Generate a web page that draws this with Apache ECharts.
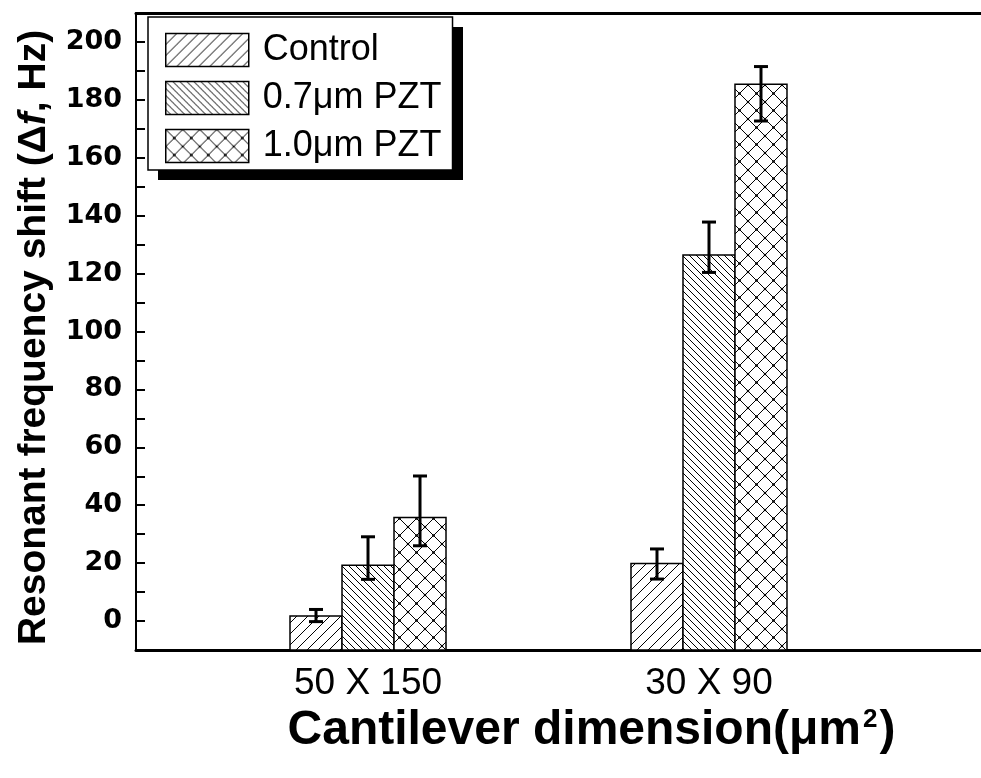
<!DOCTYPE html>
<html>
<head>
<meta charset="utf-8">
<script src="https://cdn.jsdelivr.net/npm/echarts@6/dist/echarts.min.js"></script>
<style>
  html, body { margin: 0; padding: 0; background: #fff; }
  #chart { width: 981px; height: 778px; }
</style>
</head>
<body>
<div id="chart"></div>
<script>
  // data
  var categories = ['50 X 150', '30 X 90'];
  var categoryPos = [1, 2];
  var seriesNames = ['Control', '0.7\u03bcm PZT', '1.0\u03bcm PZT'];

  var controlVals = [1.7, 19.9];
  var controlLow = [-0.2, 14.5];
  var controlHigh = [4.0, 24.9];

  var pzt07Vals = [19.3, 126.4];
  var pzt07Low = [14.4, 120.4];
  var pzt07High = [29.1, 137.8];

  var pzt10Vals = [35.8, 185.4];
  var pzt10Low = [26.0, 172.7];
  var pzt10High = [50.1, 191.5];

  var yLabelValues = [0, 20, 40, 60, 80, 100, 120, 140, 160, 180, 200];

  var Y_MIN = -10, Y_MAX = 210;
  var X_MIN = 0.3196, X_MAX = 2.7977;
  var BAR_W = 52;
  var FONT = "'Liberation Sans', Arial, sans-serif";

  // hatch fills
  function hatch(period, dirs, dots) {
    var c = document.createElement('canvas');
    c.width = period; c.height = period;
    var ctx = c.getContext('2d');
    ctx.fillStyle = '#fff';
    ctx.fillRect(0, 0, period, period);
    ctx.strokeStyle = '#000';
    ctx.lineWidth = 1;
    dirs.forEach(function (d) {
      for (var k = -1; k <= 1; k++) {
        ctx.beginPath();
        if (d === '/') {
          ctx.moveTo(k * period, period);
          ctx.lineTo(k * period + period, 0);
        } else {
          ctx.moveTo(k * period, 0);
          ctx.lineTo(k * period + period, period);
        }
        ctx.stroke();
      }
    });
    if (dots) {
      ctx.fillStyle = '#000';
      [[period / 2, period / 2], [0, 0], [period, 0], [0, period], [period, period]].forEach(function (p) {
        ctx.beginPath();
        ctx.arc(p[0], p[1], 1.3, 0, Math.PI * 2);
        ctx.fill();
      });
    }
    return { image: c, repeat: 'repeat' };
  }

  var fills = [hatch(11, ['/']), hatch(7, ['\\']), hatch(17, ['/', '\\'], true)];

  function makeData(vals, low, high) {
    return categoryPos.map(function (x, i) {
      return [x, vals[i], low[i], high[i]];
    });
  }

  // bar from the bottom of the axis up to the value, plus its error bar
  function barRender(slot, fill) {
    return function (params, api) {
      var x = api.value(0);
      var base = api.coord([x, Y_MIN]);
      var top = api.coord([x, api.value(1)]);
      var lo = api.coord([x, api.value(2)]);
      var hi = api.coord([x, api.value(3)]);
      var cx = base[0] + slot * BAR_W;
      var cap = 7;
      return {
        type: 'group',
        children: [
          {
            type: 'rect',
            shape: { x: cx - BAR_W / 2, y: top[1], width: BAR_W, height: base[1] - top[1] },
            style: { fill: fill, stroke: '#000', lineWidth: 1.5 }
          },
          { type: 'line', shape: { x1: cx, y1: hi[1], x2: cx, y2: lo[1] }, style: { stroke: '#000', lineWidth: 3 } },
          { type: 'line', shape: { x1: cx - cap, y1: hi[1], x2: cx + cap, y2: hi[1] }, style: { stroke: '#000', lineWidth: 3 } },
          { type: 'line', shape: { x1: cx - cap, y1: lo[1], x2: cx + cap, y2: lo[1] }, style: { stroke: '#000', lineWidth: 3 } }
        ]
      };
    };
  }

  var allData = [
    makeData(controlVals, controlLow, controlHigh),
    makeData(pzt07Vals, pzt07Low, pzt07High),
    makeData(pzt10Vals, pzt10Low, pzt10High)
  ];

  var series = seriesNames.map(function (name, i) {
    return {
      name: name,
      type: 'custom',
      xAxisIndex: 0,
      yAxisIndex: 0,
      itemStyle: { color: fills[i], borderColor: '#000', borderWidth: 1.5 },
      renderItem: barRender(i - 1, fills[i]),
      encode: { x: 0, y: [1, 2, 3] },
      data: allData[i],
      silent: true
    };
  });

  var myChart = echarts.init(document.getElementById('chart'));
  myChart.setOption({
    animation: false,
    backgroundColor: '#fff',
    grid: { left: 136, right: 0, top: 13, bottom: 128, containLabel: false },
    // hard drop shadow behind the legend box
    graphic: [{
      type: 'rect',
      z: 3,
      silent: true,
      shape: { x: 158, y: 27, width: 305, height: 153 },
      style: { fill: '#000' }
    }],
    legend: {
      orient: 'vertical',
      left: 148,
      top: 17,
      z: 4,
      padding: [15, 11, 6, 17],
      itemWidth: 83,
      itemHeight: 33,
      itemGap: 12,
      icon: 'rect',
      backgroundColor: '#fff',
      borderColor: '#000',
      borderWidth: 1.5,
      borderRadius: 0,
      selectedMode: false,
      textStyle: { fontFamily: FONT, fontSize: 36, color: '#000', lineHeight: 33, padding: [0, 0, 0, 9] },
      data: seriesNames.map(function (n, i) {
        return { name: n, itemStyle: { color: fills[i], borderColor: '#000', borderWidth: 1.5 } };
      })
    },
    xAxis: [
      {
        type: 'value',
        min: X_MIN,
        max: X_MAX,
        position: 'bottom',
        axisLine: { show: true, onZero: false, lineStyle: { color: '#000', width: 3 } },
        axisTick: { show: false },
        splitLine: { show: false },
        axisLabel: {
          customValues: categoryPos,
          margin: 15,
          color: '#000',
          fontFamily: FONT,
          fontSize: 37,
          formatter: function (v) {
            var i = categoryPos.indexOf(v);
            return i >= 0 ? categories[i] : '';
          }
        },
        name: 'Cantilever dimension(\u03bcm{s|2})',
        nameLocation: 'middle',
        nameGap: 46,
        nameTextStyle: {
          fontFamily: FONT,
          fontSize: 48,
          fontWeight: 'bold',
          color: '#000',
          padding: [0, 0, 0, 66],
          rich: {
            s: { fontFamily: FONT, fontSize: 26, fontWeight: 'bold', color: '#000', verticalAlign: 'top', padding: [0, 2, 18, 2] }
          }
        }
      },
      {
        type: 'value',
        min: X_MIN,
        max: X_MAX,
        position: 'top',
        axisLine: { show: true, onZero: false, lineStyle: { color: '#000', width: 3 } },
        axisTick: { show: false },
        axisLabel: { show: false },
        splitLine: { show: false }
      }
    ],
    yAxis: {
      type: 'value',
      min: Y_MIN,
      max: Y_MAX,
      interval: 10,
      axisLine: { show: true, onZero: false, lineStyle: { color: '#000', width: 2 } },
      axisTick: { show: true, inside: true, length: 9, lineStyle: { color: '#000', width: 2 } },
      splitLine: { show: false },
      axisLabel: {
        margin: 14,
        color: '#000',
        fontFamily: "'DejaVu Sans', sans-serif",
        fontSize: 27,
        fontWeight: 'bold',
        formatter: function (v) {
          return yLabelValues.indexOf(Math.round(v * 1000) / 1000) >= 0 ? String(v) : '';
        }
      },
      name: 'Resonant frequency shift (\u0394{i|f}, Hz)',
      nameLocation: 'middle',
      nameRotate: 90,
      nameGap: 82,
      nameTextStyle: {
        fontFamily: FONT,
        fontSize: 39,
        fontWeight: 'bold',
        color: '#000',
        padding: [0, 12, 0, 0],
        rich: {
          i: { fontFamily: FONT, fontSize: 39, fontWeight: 'bold', fontStyle: 'italic', color: '#000' }
        }
      }
    },
    series: series
  });
</script>
</body>
</html>
